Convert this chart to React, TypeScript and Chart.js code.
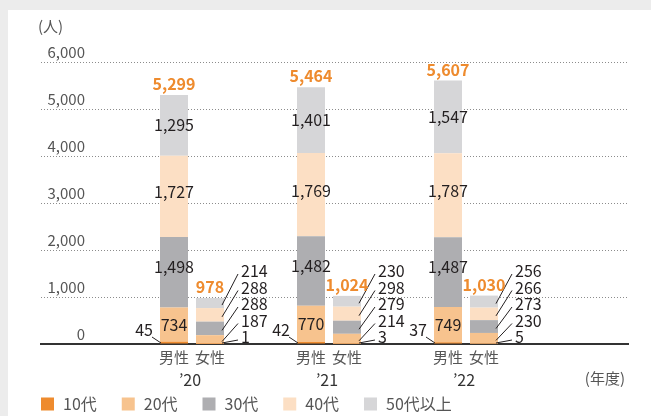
import { useEffect, useRef } from 'react';
import { Chart, registerables } from 'chart.js';

Chart.register(...registerables);

const years = ['’20', '’21', '’22'];
const genders = ['男性', '女性'];
const ageGroups = ['10代', '20代', '30代', '40代', '50代以上'];

const male10 = [45, 42, 37];
const male20 = [734, 770, 749];
const male30 = [1498, 1482, 1487];
const male40 = [1727, 1769, 1787];
const male50 = [1295, 1401, 1547];

const female10 = [1, 3, 5];
const female20 = [187, 214, 230];
const female30 = [288, 279, 273];
const female40 = [288, 298, 266];
const female50 = [214, 230, 256];

const yTickValues = [0, 1000, 2000, 3000, 4000, 5000, 6000];
const unitLabel = '(人)';
const yearUnitLabel = '(年度)';

const colors = ['#EE8B2E', '#F7C38E', '#AEAEB1', '#FCDFC4', '#D6D6D8'];
const FONT = '"Noto Sans CJK JP", "Noto Sans", sans-serif';

const series = [
  [male10, male20, male30, male40, male50],
  [female10, female20, female30, female40, female50],
];

const fmt = (v: number) => v.toLocaleString('en-US');

const labelsPlugin = {
  id: 'customLabels',
  afterDatasetsDraw(chart: any) {
    const ctx = chart.ctx as CanvasRenderingContext2D;
    const area = chart.chartArea;
    const ys = chart.scales.y;
    const xs = chart.scales.x;
    const zero = ys.getPixelForValue(0);
    ctx.save();

    // y tick labels
    ctx.font = `15px ${FONT}`;
    ctx.fillStyle = '#555';
    ctx.textAlign = 'right';
    ctx.textBaseline = 'middle';
    ys.ticks.forEach((t: any) => {
      ctx.fillText(fmt(t.value), area.left + 44, ys.getPixelForValue(t.value) - 10);
    });

    // unit
    ctx.textAlign = 'left';
    ctx.fillText(unitLabel, area.left - 3, area.top - 36);

    const stackInfo: Record<string, { x: number; top: number; total: number }[]> = {};

    chart.data.datasets.forEach((ds: any, di: number) => {
      const meta = chart.getDatasetMeta(di);
      const g = ds.genderIndex;
      const a = ds.ageIndex;
      meta.data.forEach((el: any, j: number) => {
        const { x, y, base, width } = el.getProps(['x', 'y', 'base', 'width'], true);
        const value = ds.data[j].y;
        const key = g + '-' + j;
        if (!stackInfo[key]) stackInfo[key] = [];
        stackInfo[key].push({ x, top: y, total: value });
        const left = x - width / 2;
        const right = x + width / 2;
        ctx.font = `16px ${FONT}`;
        ctx.fillStyle = '#231F20';
        ctx.strokeStyle = '#231F20';
        ctx.lineWidth = 1;
        ctx.textBaseline = 'middle';
        if (g === 0) {
          if (a === 0) {
            ctx.textAlign = 'right';
            ctx.fillText(fmt(value), left - 7, zero - 14);
            ctx.beginPath();
            ctx.moveTo(left - 8, zero - 7);
            ctx.lineTo(left + 1, zero - 1);
            ctx.stroke();
          } else {
            const offs = [0, 0, -5, -4, 0];
            ctx.textAlign = 'center';
            ctx.fillText(fmt(value), x, (y + base) / 2 + offs[a]);
          }
        } else {
          const textLeft = right + 17;
          const ty = zero - 7 - a * 16.5;
          ctx.textAlign = 'left';
          ctx.fillText(fmt(value), textLeft, ty);
          const mid = (y + base) / 2;
          ctx.beginPath();
          ctx.moveTo(right - 2, Math.min(mid + 2, zero - 1));
          ctx.lineTo(textLeft - 3, ty + 3);
          ctx.stroke();
        }
      });
    });

    // totals and gender labels
    Object.keys(stackInfo).forEach((key) => {
      const items = stackInfo[key];
      const total = items.reduce((s, it) => s + it.total, 0);
      const top = Math.min(...items.map((it) => it.top));
      const x = items[0].x;
      const g = Number(key.split('-')[0]);
      ctx.font = `bold 16px ${FONT}`;
      ctx.fillStyle = '#EE8B2E';
      ctx.textAlign = 'center';
      ctx.textBaseline = 'middle';
      ctx.fillText(fmt(total), x, top - 11);
      ctx.font = `15px ${FONT}`;
      ctx.fillStyle = '#555';
      ctx.fillText(genders[g], x, area.bottom + 13.5);
    });

    // year labels
    ctx.font = `16px ${FONT}`;
    ctx.fillStyle = '#333';
    ctx.textAlign = 'center';
    years.forEach((yl, i) => {
      ctx.fillText(yl, xs.getPixelForValue(i + 1) - 2, area.bottom + 36);
    });

    ctx.font = `15px ${FONT}`;
    ctx.fillStyle = '#555';
    ctx.textAlign = 'right';
    ctx.fillText(yearUnitLabel, area.right - 3, area.bottom + 34);

    // legend
    ageGroups.forEach((lab, a) => {
      const sx = area.left + a * 80.75;
      ctx.fillStyle = colors[a];
      ctx.fillRect(sx, area.bottom + 53.5, 13, 13);
      ctx.font = `16px ${FONT}`;
      ctx.fillStyle = '#555';
      ctx.textAlign = 'left';
      ctx.textBaseline = 'middle';
      ctx.fillText(lab, sx + 22, area.bottom + 60);
    });

    ctx.restore();
  },
};

export default function App() {
  const canvasRef = useRef<HTMLCanvasElement | null>(null);

  useEffect(() => {
    if (!canvasRef.current) return;
    const datasets: any[] = [];
    series.forEach((gs, g) => {
      gs.forEach((vals, a) => {
        datasets.push({
          label: ageGroups[a],
          stack: genders[g],
          genderIndex: g,
          ageIndex: a,
          data: vals.map((v, i) => ({ x: i + 1, y: v })),
          backgroundColor: colors[a],
          borderWidth: 0,
        });
      });
    });

    const chart = new Chart(canvasRef.current, {
      type: 'bar',
      data: { datasets },
      options: {
        responsive: false,
        animation: false,
        categoryPercentage: 72 / 137,
        barPercentage: 28 / 36,
        layout: { padding: { left: 33, right: 23, top: 52, bottom: 72 } },
        plugins: { legend: { display: false }, tooltip: { enabled: false } },
        scales: {
          x: {
            type: 'linear',
            offset: false,
            min: -0.1022,
            max: 4.1825,
            afterBuildTicks: (s: any) => {
              s.ticks = years.map((_, i) => ({ value: i + 1 }));
            },
            ticks: { display: false },
            grid: { display: false, drawTicks: false, offset: false },
            border: { display: true, color: '#333', width: 2 },
          },
          y: {
            stacked: true,
            min: 0,
            max: 6000,
            afterBuildTicks: (s: any) => {
              s.ticks = yTickValues.map((v) => ({ value: v }));
            },
            ticks: { display: false },
            grid: {
              drawTicks: false,
              color: (c: any) => (c.tick && c.tick.value === 0 ? 'rgba(0,0,0,0)' : '#8c8c8c'),
              lineWidth: 1,
            },
            border: { display: false, dash: [1, 2] },
          },
        },
      } as any,
      plugins: [labelsPlugin],
    });
    return () => chart.destroy();
  }, []);

  return (
    <div style={{ position: 'fixed', left: 0, top: 0, width: 651, height: 416, background: '#ececec' }}>
      <div style={{ position: 'absolute', left: 8, top: 10, width: 643, height: 406, background: '#fff' }}>
        <canvas ref={canvasRef} width={643} height={406} style={{ display: 'block' }} />
      </div>
    </div>
  );
}
